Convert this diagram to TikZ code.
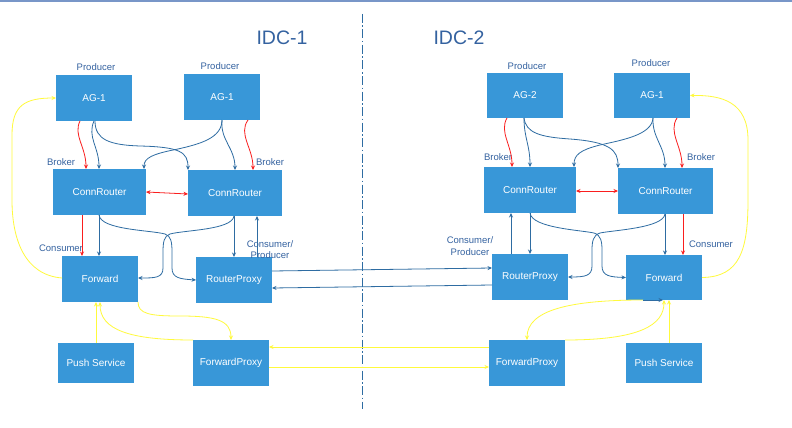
\documentclass[tikz,border=0pt]{standalone}
\usepackage{fontspec}
\setmainfont{Liberation Sans}
\usetikzlibrary{arrows.meta}
\definecolor{boxblue}{RGB}{56,151,216}
\definecolor{lineblue}{RGB}{46,108,162}
\definecolor{labblue}{RGB}{52,98,160}
\definecolor{arrred}{RGB}{250,30,30}
\definecolor{yel}{RGB}{255,250,60}
\definecolor{topblue}{RGB}{120,150,200}
\tikzset{
  box/.style={fill=boxblue, text=white, inner sep=0pt, outer sep=0pt, draw=none,
    minimum width=76pt, minimum height=46pt, font=\fontsize{10}{11}\selectfont},
  lab/.style={text=labblue, inner sep=0pt, font=\fontsize{9.5}{11.5}\selectfont, align=center},
  idc/.style={text=labblue, inner sep=0pt, font=\fontsize{19.5}{22}\selectfont},
  tip/.style={-{Stealth[length=4.5pt,width=4pt]}},
  conn/.style={draw=lineblue, line width=0.8pt, tip},
  rconn/.style={draw=arrred, line width=0.8pt, tip},
  rconnb/.style={draw=arrred, line width=0.8pt, {Stealth[length=4.5pt,width=4pt]}-{Stealth[length=4.5pt,width=4pt]}},
  yconn/.style={draw=yel, line width=0.8pt, tip},
  divider/.style={draw=lineblue, line width=0.8pt, dash pattern=on 9pt off 2.5pt on 1.5pt off 2.5pt},
}
\begin{document}
\begin{tikzpicture}[x=1pt,y=-1pt]
\useasboundingbox (0,0) rectangle (792,428);
\fill[white] (0,0) rectangle (792,428);
\draw[topblue, line width=1.2pt] (0,1) -- (792,1);
\coordinate (divtop) at (362,14);
\coordinate (divbot) at (362,409);
\draw[divider] (divtop) -- (divbot);
\node[idc] (idc1) at (282,38) {IDC-1};
\node[idc] (idc2) at (459,38) {IDC-2};

% IDC-1 boxes
\node[box] (agA) at (94,98) {AG-1};
\node[box] (agB) at (222,97) {AG-1};
\node[box, minimum width=93pt] (crA) at (99.5,192) {ConnRouter};
\node[box, minimum width=94pt] (crB) at (235,193) {ConnRouter};
\node[box] (fwA) at (100,279) {Forward};
\node[box] (rpA) at (234,280) {RouterProxy};
\node[box, minimum height=40pt] (psA) at (96,363) {Push Service};
\node[box] (fpA) at (231,363) {ForwardProxy};
% IDC-2 boxes
\node[box, minimum height=45pt] (agC) at (525,95.5) {AG-2};
\node[box, minimum height=45pt] (agD) at (652,95.5) {AG-1};
\node[box, minimum width=92pt] (crC) at (530,190) {ConnRouter};
\node[box, minimum width=95pt] (crD) at (665.5,191) {ConnRouter};
\node[box] (rpB) at (530,277) {RouterProxy};
\node[box, minimum height=45pt] (fwB) at (664,277.5) {Forward};
\node[box] (fpB) at (527,363) {ForwardProxy};
\node[box, minimum height=40pt] (psB) at (664,363) {Push Service};

% labels
\node[lab] (pA) at (96,67) {Producer};
\node[lab] (pB) at (220,66) {Producer};
\node[lab] (pC) at (527,66) {Producer};
\node[lab] (pD) at (651,63) {Producer};
\node[lab] (bA) at (61,162) {Broker};
\node[lab] (bB) at (270,162) {Broker};
\node[lab] (bC) at (498,157) {Broker};
\node[lab] (bD) at (701,157) {Broker};
\node[lab] (cA) at (61,248) {Consumer};
\node[lab] (cB) at (711,244) {Consumer};
\node[lab] (cpA) at (270,249.5) {Consumer/\\Producer};
\node[lab] (cpB) at (470,246) {Consumer/\\Producer};

% ---- IDC-1 connectors
\draw[rconn] ([xshift=-14pt]agA.south) .. controls +(-7,14) and +(0,-22) .. ([xshift=-13.5pt]crA.north);
\draw[conn] (agA.south) .. controls +(-7,16) and +(0,-22) .. ([xshift=-0.5pt]crA.north);
\draw[conn] ([xshift=1pt]agA.south) .. controls (95,140) and (110,145) .. (140,146) .. controls (180,147) and (188,152) .. ([xshift=-47pt]crB.north);
\draw[conn] (agB.south) .. controls (222,138) and (200,144) .. (178,149) .. controls (152,154) and (144,158) .. ([xshift=44.5pt]crA.north);
\draw[conn] (agB.south) .. controls +(-2,20) and +(0,-22) .. (crB.north);
\draw[rconn] ([xshift=26pt]agB.south) .. controls +(-10,14) and +(0,-22) .. ([xshift=18pt]crB.north);
\draw[rconnb] (crA.east) -- ([yshift=-1pt]crB.west);
\draw[rconn] ([xshift=-17.5pt]crA.south) -- ([xshift=-18pt]fwA.north);
\draw[conn] ([xshift=-0.5pt]crA.south) -- ([xshift=-1pt]fwA.north);
\draw[conn] ([xshift=-0.5pt]crA.south) .. controls (101,230) and (150,230) .. (165,234) .. controls (171,236) and (172,242) .. (172,252) -- (172,268) .. controls (172,278) and (180,279) .. (rpA.west);
\draw[conn] ([xshift=-1pt]crB.south) .. controls (232,230) and (185,230) .. (170,234) .. controls (164,236) and (163,242) .. (163,252) -- (163,268) .. controls (163,278) and (155,278) .. ([yshift=1pt]fwA.east);
\draw[conn] ([xshift=-1pt]crB.south) -- (rpA.north);
\draw[conn] ([xshift=23pt]rpA.north) -- ([xshift=22pt]crB.south);
\draw[conn] ([yshift=9pt]rpA.east) -- ([yshift=9pt]rpB.west);
\draw[conn] ([yshift=-8pt]rpB.west) -- ([yshift=-8pt]rpA.east);
\draw[yconn] ([yshift=1pt]fwA.west) .. controls (25,275) and (12,240) .. (12,200) -- (12,135) .. controls (12,105) and (25,98) .. (agA.west);
\draw[yconn] (fwA.south east) .. controls (138,314) and (150,316) .. (180,316) .. controls (215,316) and (231,320) .. (fpA.north);
\draw[yconn] (fpA.north west) .. controls (130,340) and (100,330) .. (fwA.south);
\draw[yconn] (psA.north) -- ([xshift=-4pt]fwA.south);
\draw[yconn] ([yshift=-4pt]fpA.east) -- ([yshift=-4pt]fpB.west);
\draw[yconn] ([yshift=16pt]fpB.west) -- ([yshift=16pt]fpA.east);

% ---- IDC-2 connectors
\draw[rconn] ([xshift=-18pt]agC.south) .. controls +(-8,14) and +(0,-22) .. ([xshift=-18pt]crC.north);
\draw[conn] ([xshift=-1pt]agC.south) .. controls +(0,20) and +(0,-22) .. (crC.north);
\draw[conn] ([xshift=-1pt]agC.south) .. controls (526,133) and (540,137) .. (570,139) .. controls (610,142) and (618,150) .. ([xshift=-47.5pt]crD.north);
\draw[conn] ([xshift=1pt]agD.south) .. controls (652,135) and (622,140) .. (600,145) .. controls (580,150) and (574,155) .. ([xshift=44pt]crC.north);
\draw[conn] ([xshift=1pt]agD.south) .. controls +(-1,20) and +(0,-22) .. ([xshift=-0.5pt]crD.north);
\draw[rconn] ([xshift=25pt]agD.south) .. controls +(-9,14) and +(0,-22) .. ([xshift=16.5pt]crD.north);
\draw[rconnb] ([yshift=-1pt]crC.east) -- (crD.west);
\draw[conn] ([xshift=-19pt]rpB.north) -- ([xshift=-19pt]crC.south);
\draw[conn] (crC.south) -- (rpB.north);
\draw[conn] (crC.south) .. controls (532,228) and (580,230) .. (594,233) .. controls (601,235) and (602,242) .. (602,250) -- (602,266) .. controls (602,276) and (610,277) .. (fwB.west);
\draw[conn] ([xshift=-0.5pt]crD.south) .. controls (663,228) and (615,230) .. (600,233) .. controls (593,235) and (592,242) .. (592,250) -- (592,266) .. controls (592,276) and (585,277) .. (rpB.east);
\draw[conn] ([xshift=-0.5pt]crD.south) -- ([xshift=1pt]fwB.north);
\draw[rconn] ([xshift=17.5pt]crD.south) -- ([xshift=19pt]fwB.north);
\draw[yconn] (fwB.east) .. controls (740,277) and (748,250) .. (748,200) -- (748,140) .. controls (748,102) and (722,95) .. (agD.east);
\draw[yconn] ([xshift=-21pt]fwB.south) .. controls (570,300) and (527,310) .. (fpB.north);
\draw[conn] ([xshift=-21pt]fwB.south) -- ([xshift=-1pt]fwB.south);
\draw[yconn] (fpB.north east) .. controls (640,340) and (664,325) .. (fwB.south);
\draw[yconn] ([xshift=5pt]psB.north) -- ([xshift=5pt]fwB.south);
\end{tikzpicture}
\end{document}
